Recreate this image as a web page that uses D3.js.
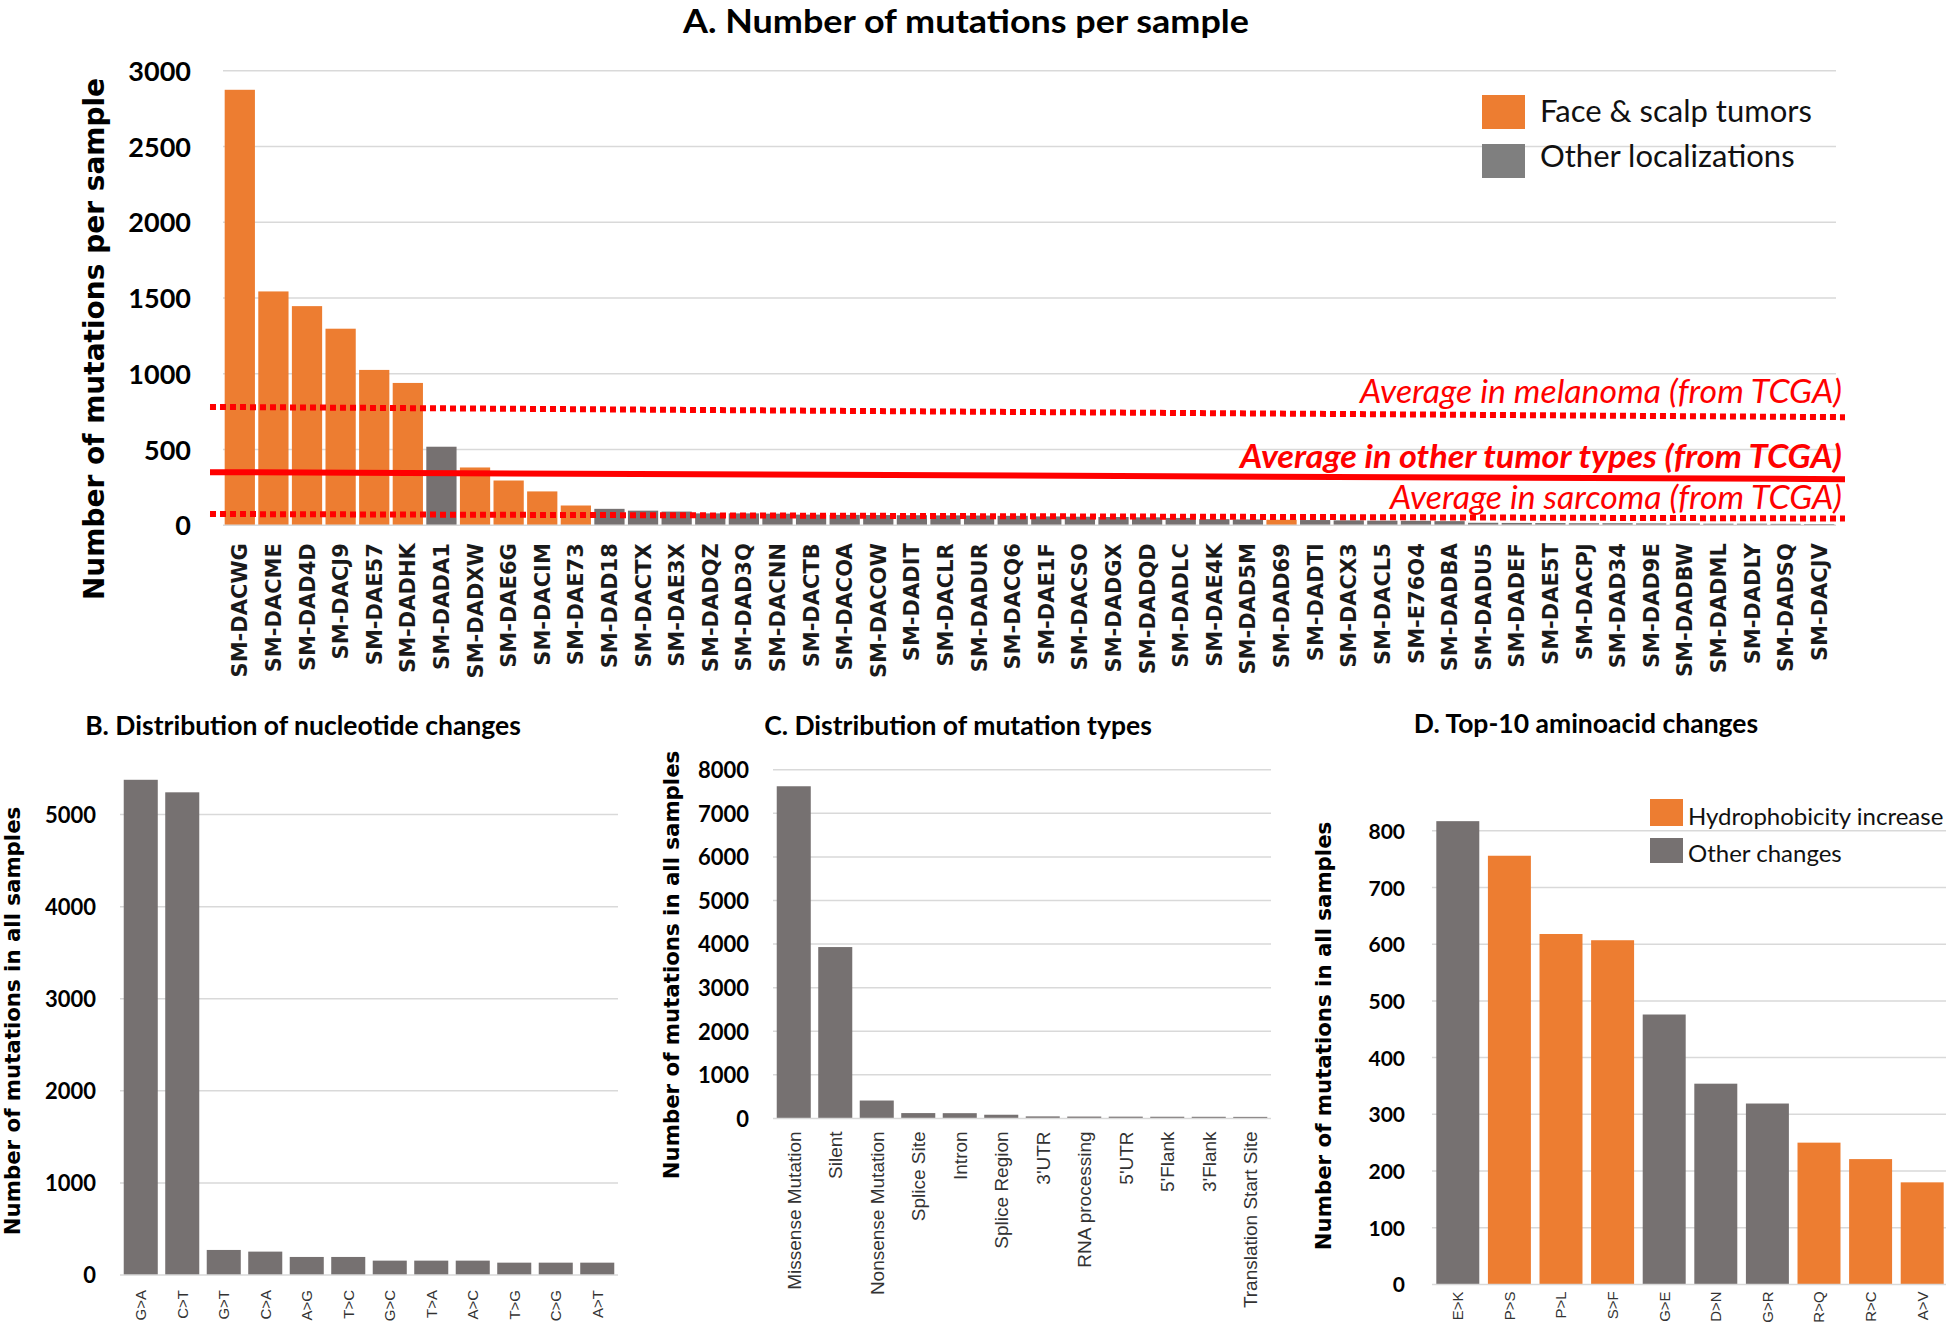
<!DOCTYPE html>
<html><head><meta charset="utf-8">
<script src="https://cdn.jsdelivr.net/npm/d3@7"></script>
<style>body{margin:0;background:#fff} svg{display:block;background:#fff}</style>
</head><body>
<svg id="c" width="1946" height="1335"></svg>
<script>
// ---------- DATA ----------
const samples = ["SM-DACWG","SM-DACME","SM-DAD4D","SM-DACJ9","SM-DAE57","SM-DADHK","SM-DADA1","SM-DADXW","SM-DAE6G","SM-DACIM","SM-DAE73","SM-DAD18","SM-DACTX","SM-DAE3X","SM-DADQZ","SM-DAD3Q","SM-DACNN","SM-DACTB","SM-DACOA","SM-DACOW","SM-DADIT","SM-DACLR","SM-DADUR","SM-DACQ6","SM-DAE1F","SM-DACSO","SM-DADGX","SM-DADQD","SM-DADLC","SM-DAE4K","SM-DAD5M","SM-DAD69","SM-DADTI","SM-DACX3","SM-DACL5","SM-E76O4","SM-DADBA","SM-DADU5","SM-DADEF","SM-DAE5T","SM-DACPJ","SM-DAD34","SM-DAD9E","SM-DADBW","SM-DADML","SM-DADLY","SM-DADSQ","SM-DACJV"];
const sampleCounts = [2874,1543,1446,1297,1025,939,518,381,295,223,130,108,96,90,78,78,76,70,68,67,66,65,64,62,58,56,54,52,48,40,38,36,34,32,30,29,27,16,15,14,13,13,12,11,10,10,9,8];
const sampleGroup = ["face","face","face","face","face","face","other","face","face","face","face","other","other","other","other","other","other","other","other","other","other","other","other","other","other","other","other","other","other","other","other","face","other","other","other","other","other","other","other","other","other","other","other","other","other","other","other","other"];
const sampleLegend = ["Face & scalp tumors","Other localizations"];
const ticksA = [0,500,1000,1500,2000,2500,3000];

const refLabels = ["Average in melanoma (from TCGA)","Average in other tumor types (from TCGA)","Average in sarcoma (from TCGA)"];
const refStart = [781,350,74];
const refEnd = [713,304,44];

const nucChanges = ["G>A","C>T","G>T","C>A","A>G","T>C","G>C","T>A","A>C","T>G","C>G","A>T"];
const nucCounts = [5378,5242,272,254,196,196,156,156,156,134,134,134];
const ticksB = [0,1000,2000,3000,4000,5000];

const mutTypes = ["Missense Mutation","Silent","Nonsense Mutation","Splice Site","Intron","Splice Region","3'UTR","RNA processing","5'UTR","5'Flank","3'Flank","Translation Start Site"];
const mutCounts = [7620,3931,410,122,120,84,46,42,40,38,37,35];
const ticksC = [0,1000,2000,3000,4000,5000,6000,7000,8000];

const aaChanges = ["E>K","P>S","P>L","S>F","G>E","D>N","G>R","R>Q","R>C","A>V"];
const aaCounts = [817,756,618,607,476,354,319,250,221,180];
const aaGroup = ["other","hydro","hydro","hydro","other","other","other","hydro","hydro","hydro"];
const aaLegend = ["Hydrophobicity increase","Other changes"];
const ticksD = [0,100,200,300,400,500,600,700,800];

const titles = ["A. Number of mutations per sample","B. Distribution of nucleotide changes","C. Distribution of mutation types","D. Top-10 aminoacid changes"];
const yTitleA = "Number of mutations per sample";
const yTitleAll = "Number of mutations in all samples";

// ---------- STYLE ----------
const ORANGE = "#ED7D31", GRAY = "#767171", GRID = "#d9d9d9", RED = "#FF0000";
const TF = "Lato, 'Open Sans', sans-serif";
const VF = "'DejaVu Sans', Verdana, sans-serif";
const AF = "'Liberation Sans', Arial, sans-serif";

const svg = d3.select("#c");

function drawPanel(p) {
  const g = svg.append("g");
  const x = d3.scaleBand().domain(p.cats).range(p.xr).paddingInner(p.pad).paddingOuter(p.pad / 2);
  const y = d3.scaleLinear().domain(p.yd).range(p.yr);
  g.append("g").selectAll("line").data(p.ticks.filter(t => t > 0)).join("line")
    .attr("x1", p.xr[0]).attr("x2", p.xr[1])
    .attr("y1", d => y(d)).attr("y2", d => y(d))
    .attr("stroke", GRID).attr("stroke-width", 1.5);
  g.append("g").selectAll("rect").data(p.vals).join("rect")
    .attr("x", (d, i) => x(p.cats[i])).attr("width", x.bandwidth())
    .attr("y", d => y(d)).attr("height", d => y(0) - y(d))
    .attr("fill", (d, i) => p.color(i));
  g.append("line").attr("x1", p.xr[0]).attr("x2", p.xr[1]).attr("y1", y(0)).attr("y2", y(0))
    .attr("stroke", GRID).attr("stroke-width", 1.5);
  const ya = d3.axisLeft(y).tickValues(p.ticks).tickSize(0).tickPadding(0).tickFormat(d3.format("d"));
  const yg = g.append("g").attr("transform", `translate(${p.tickX},0)`).call(ya);
  yg.select(".domain").remove();
  yg.selectAll("text").attr("font-family", TF).attr("font-weight", 700)
    .attr("font-size", p.tickSize).attr("fill", "#000").attr("dy", "0.36em");
  const xa = d3.axisBottom(x).tickSize(0);
  const xg = g.append("g").attr("transform", `translate(0,${y(0)})`).call(xa);
  xg.select(".domain").remove();
  xg.selectAll("text")
    .attr("x", 0).attr("y", 0).attr("dy", "0.36em")
    .attr("text-anchor", "end")
    .attr("transform", `translate(0,${p.lblGap}) rotate(-90)`)
    .attr("font-family", p.lblFont).attr("font-weight", p.lblWeight)
    .attr("font-size", p.lblSize).attr("fill", p.lblColor);
  svg.append("text").attr("transform", `translate(${p.yTitleX},${p.yTitleY}) rotate(-90)`)
    .attr("text-anchor", "middle").attr("font-family", VF).attr("font-weight", 700)
    .attr("font-size", p.yTitleSize).attr("fill", "#000").text(p.yTitle);
  const t = svg.append("text").attr("x", p.titleX).attr("y", p.titleY).attr("text-anchor", "middle")
    .attr("font-family", TF).attr("font-weight", 700).attr("font-size", p.titleSize)
    .attr("fill", "#000").text(p.title);
  if (p.titleLen) t.attr("textLength", p.titleLen).attr("lengthAdjust", "spacingAndGlyphs");
  return { x, y, g };
}

// ---------- PANEL A ----------
const A = drawPanel({
  cats: samples, vals: sampleCounts, color: i => sampleGroup[i] === "face" ? ORANGE : GRAY,
  xr: [223, 1836], pad: 0.1, yd: [0, 3000], yr: [525.2, 70.7], ticks: ticksA,
  tickX: 191, tickSize: 27,
  lblGap: 18, lblFont: VF, lblWeight: 700, lblSize: 21, lblColor: "#1a1a1a",
  yTitle: yTitleA, yTitleX: 104, yTitleY: 339, yTitleSize: 28,
  title: titles[0], titleX: 966, titleY: 33, titleSize: 32, titleLen: 566
});

// reference lines
const refX0 = A.x.range()[0] - 13, refX1 = A.x.range()[1] + 9;
const refStyle = [
  { dash: "6,4", w: 6, weight: 400, size: 32, off: 14, len: 482 },
  { dash: null, w: 6, weight: 700, size: 32, off: 11, len: 602 },
  { dash: "6,4", w: 6, weight: 400, size: 32, off: 10, len: 452 }
];
refLabels.forEach((lab, i) => {
  const s = refStyle[i];
  svg.append("line").attr("x1", refX0).attr("x2", refX1)
    .attr("y1", A.y(refStart[i])).attr("y2", A.y(refEnd[i]))
    .attr("stroke", RED).attr("stroke-width", s.w)
    .attr("stroke-dasharray", s.dash);
  svg.append("text").attr("x", refX1 - 3).attr("y", A.y(refEnd[i]) - s.off)
    .attr("text-anchor", "end").attr("font-family", TF).attr("font-style", "italic")
    .attr("font-weight", s.weight).attr("font-size", s.size).attr("fill", RED)
    .attr("textLength", s.len).attr("lengthAdjust", "spacingAndGlyphs").text(lab);
});

// legend A
const legA = svg.append("g");
[ORANGE, "#7F7F7F"].forEach((c, i) => {
  legA.append("rect").attr("x", 1482).attr("y", [95, 144][i]).attr("width", 43).attr("height", 34).attr("fill", c);
  legA.append("text").attr("x", 1540).attr("y", [122, 167][i]).attr("font-family", TF)
    .attr("font-size", 31).attr("fill", "#111").text(sampleLegend[i]);
});

// ---------- PANEL B ----------
drawPanel({
  cats: nucChanges, vals: nucCounts, color: () => GRAY,
  xr: [120, 618], pad: 0.18, yd: [0, 5000], yr: [1275, 814.6], ticks: ticksB,
  tickX: 96, tickSize: 22,
  lblGap: 15, lblFont: AF, lblWeight: 400, lblSize: 15, lblColor: "#333",
  yTitle: yTitleAll, yTitleX: 20, yTitleY: 1021, yTitleSize: 21.3,
  title: titles[1], titleX: 303, titleY: 735, titleSize: 26.5
});

// ---------- PANEL C ----------
drawPanel({
  cats: mutTypes, vals: mutCounts, color: () => GRAY,
  xr: [773, 1271], pad: 0.18, yd: [0, 8000], yr: [1118.4, 769.7], ticks: ticksC,
  tickX: 749, tickSize: 22,
  lblGap: 13, lblFont: AF, lblWeight: 400, lblSize: 19, lblColor: "#333",
  yTitle: yTitleAll, yTitleX: 679, yTitleY: 965, yTitleSize: 21.3,
  title: titles[2], titleX: 958, titleY: 735, titleSize: 26.5
});

// ---------- PANEL D ----------
drawPanel({
  cats: aaChanges, vals: aaCounts, color: i => aaGroup[i] === "hydro" ? ORANGE : GRAY,
  xr: [1432, 1948], pad: 0.167, yd: [0, 800], yr: [1284.4, 830.8], ticks: ticksD,
  tickX: 1405, tickSize: 21,
  lblGap: 7, lblFont: AF, lblWeight: 400, lblSize: 15, lblColor: "#333",
  yTitle: yTitleAll, yTitleX: 1331, yTitleY: 1036, yTitleSize: 21.3,
  title: titles[3], titleX: 1586, titleY: 733, titleSize: 26.5
});

// legend D
const legD = svg.append("g");
[ORANGE, GRAY].forEach((c, i) => {
  legD.append("rect").attr("x", 1650).attr("y", [799, 838][i]).attr("width", 33).attr("height", [27, 25][i]).attr("fill", c);
  legD.append("text").attr("x", 1688).attr("y", [825, 862][i]).attr("font-family", TF)
    .attr("font-size", 24).attr("fill", "#111").text(aaLegend[i]);
});
</script>
</body></html>
